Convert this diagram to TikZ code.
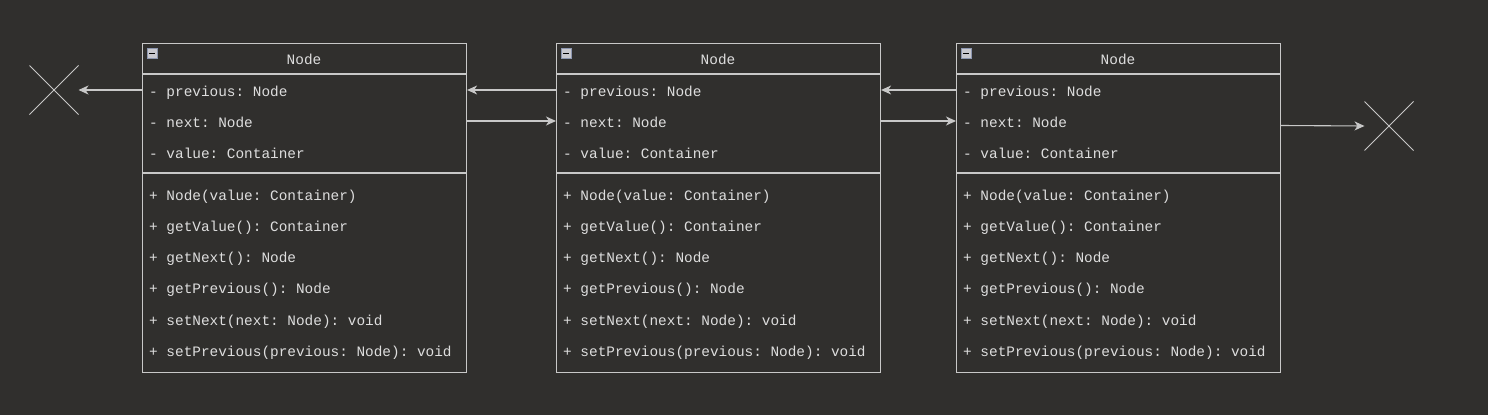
\documentclass[tikz,border=0pt]{standalone}
\usepackage{fontspec}
\setmonofont{Liberation Mono}
\usetikzlibrary{arrows.meta,shapes.misc}
\definecolor{bgc}{RGB}{48,47,45}
\definecolor{linec}{RGB}{200,200,200}
\definecolor{txtc}{RGB}{222,222,222}
\definecolor{iconfill}{RGB}{200,200,206}
\definecolor{iconline}{RGB}{140,150,175}
\tikzset{
  classbox/.style={draw=linec, line width=1.1pt, fill=bgc, minimum width=324pt, minimum height=329pt, anchor=north west, inner sep=0pt},
  member/.style={anchor=west, inner sep=0pt, text=txtc, font=\ttfamily\fontsize{14.4}{16}\selectfont, text height=10pt, text depth=3pt},
  title/.style={inner sep=0pt, text=txtc, font=\ttfamily\fontsize{14.4}{16}\selectfont, text height=10pt, text depth=3pt},
  sep/.style={draw=linec, line width=1.1pt},
  link/.style={draw=linec, line width=1.1pt, -{Stealth[length=10pt, width=9pt, inset=3pt]}},
  endmark/.style={cross out, draw=linec, line width=1pt, minimum size=48pt, inner sep=0pt},
  icon/.style={draw=iconline, fill=iconfill, line width=0.8pt, minimum size=10pt, inner sep=0pt, anchor=north west}
}
\newcommand{\umlclass}[2]{%
  \node[classbox] (#1) at (#2,43) {};
  \node[icon] (#1icon) at (#2+5,48) {};
  \draw[black, line width=1.2pt] ([xshift=-3pt]#1icon.center) -- ([xshift=3pt]#1icon.center);
  \node[title] (#1title) at (#2+162,61) {Node};
  \draw[sep] (#2,74) -- (#2+324,74);
  \draw[sep] (#2,173) -- (#2+324,173);
  \node[member] (#1prev) at (#2+7,93) {- previous: Node};
  \node[member] (#1next) at (#2+7,124) {- next: Node};
  \node[member] (#1val) at (#2+7,155) {- value: Container};
  \node[member] (#1m1) at (#2+7,197) {+ Node(value: Container)};
  \node[member] (#1m2) at (#2+7,228) {+ getValue(): Container};
  \node[member] (#1m3) at (#2+7,259) {+ getNext(): Node};
  \node[member] (#1m4) at (#2+7,290) {+ getPrevious(): Node};
  \node[member] (#1m5) at (#2+7,322) {+ setNext(next: Node): void};
  \node[member] (#1m6) at (#2+7,353) {+ setPrevious(previous: Node): void};
}
\begin{document}
\begin{tikzpicture}[x=1pt, y=-1pt]
  \fill[bgc] (0,0) rectangle (1488,415);
  \useasboundingbox (0,0) rectangle (1488,415);
  \umlclass{a}{142}
  \umlclass{b}{556}
  \umlclass{c}{956}
  \node[endmark] (xl) at (54,90) {};
  \node[endmark] (xr) at (1389,126) {};
  \coordinate (yprev) at (0,90);
  \coordinate (ynext) at (0,121);
  \coordinate (yend) at (0,125.5);
  \draw[link] (a.west |- yprev) -- (xl.east);
  \draw[link] (b.west |- yprev) -- (a.east |- yprev);
  \draw[link] (a.east |- ynext) -- (b.west |- ynext);
  \draw[link] (c.west |- yprev) -- (b.east |- yprev);
  \draw[link] (b.east |- ynext) -- (c.west |- ynext);
  \draw[link] (c.east |- yend) -- (xr.west);
\end{tikzpicture}
\end{document}
